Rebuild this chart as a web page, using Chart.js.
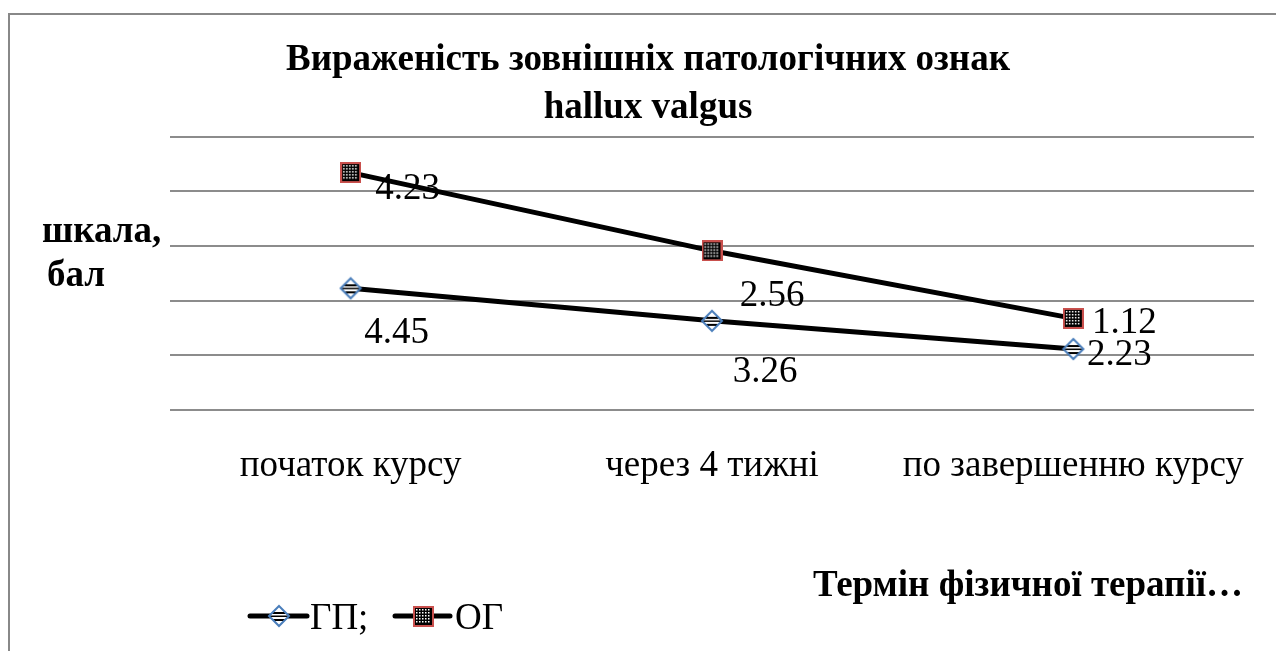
<!DOCTYPE html>
<html><head><meta charset="utf-8">
<script src="https://cdn.jsdelivr.net/npm/chart.js@4/dist/chart.umd.min.js"></script>
<style>html,body{margin:0;padding:0;background:#fff;overflow:hidden}</style>
</head><body>
<canvas id="c" width="1276" height="651"></canvas>
<script>
const categories = ['початок курсу', 'через 4 тижні', 'по завершенню курсу'];
const seriesNames = ['ГП', 'ОГ'];
const gpValues = [4.45, 3.26, 2.23];
const ogValues = [4.23, 2.56, 1.12];
const yTicks = [0, 2, 4, 6, 8, 10];
const chartTitle = ['Вираженість зовнішніх патологічних ознак', 'hallux valgus'];
const yTitle = ['шкала,', 'бал'];
const xTitle = 'Термін фізичної терапії…';

const SERIF = '"Liberation Serif", "Times New Roman", serif';
const FS = 37;

// marker images
function makeDiamond() {
  const s = 24, c = document.createElement('canvas');
  c.width = s; c.height = s;
  const g = c.getContext('2d');
  const m = s / 2, r = 10;
  g.beginPath(); g.moveTo(m, m - r); g.lineTo(m + r, m); g.lineTo(m, m + r); g.lineTo(m - r, m); g.closePath();
  g.fillStyle = '#fff'; g.fill();
  g.save(); g.clip();
  g.fillStyle = '#000';
  g.fillRect(0, m - 4, s, 2); g.fillRect(0, m - 0.5, s, 1.5); g.fillRect(0, m + 3, s, 2);
  g.restore();
  g.lineWidth = 2; g.strokeStyle = '#4a7ebb'; g.stroke();
  return c;
}
function makeSquare() {
  const s = 21, c = document.createElement('canvas');
  c.width = s; c.height = s;
  const g = c.getContext('2d');
  g.fillStyle = '#000'; g.fillRect(1, 1, s - 2, s - 2);
  g.fillStyle = '#fff';
  for (let y = 3; y < s - 3; y += 3) for (let x = 3; x < s - 3; x += 3) g.fillRect(x, y, 1.5, 1.5);
  g.lineWidth = 2; g.strokeStyle = '#c9504d'; g.strokeRect(1, 1, s - 2, s - 2);
  return c;
}
const markers = [makeDiamond(), makeSquare()];
const labelOffsets = [
  [[46, 45], [53, 51], [46, 6]],
  [[57, 17], [60, 45], [51, 5]]
];

const decor = {
  id: 'decor',
  afterDraw(chart) {
    const g = chart.ctx;
    g.save();
    // frame
    g.strokeStyle = '#888'; g.lineWidth = 2;
    g.beginPath(); g.moveTo(9, 660); g.lineTo(9, 14); g.lineTo(1290, 14); g.stroke();
    g.fillStyle = '#000';
    // title
    g.font = 'bold ' + FS + 'px ' + SERIF; g.textAlign = 'center'; g.textBaseline = 'alphabetic';
    g.fillText(chartTitle[0], 648, 70);
    g.fillText(chartTitle[1], 648, 118);
    // y title
    g.textAlign = 'left';
    g.fillText(yTitle[0], 42, 242);
    g.fillText(yTitle[1], 47, 286);
    // x title
    g.textAlign = 'right';
    g.fillText(xTitle, 1243, 596);
    // data labels
    g.font = FS + 'px ' + SERIF; g.textAlign = 'center'; g.textBaseline = 'middle';
    chart.data.datasets.forEach((ds, i) => {
      const meta = chart.getDatasetMeta(i);
      meta.data.forEach((pt, j) => {
        const o = labelOffsets[i][j];
        g.fillText(ds.data[j].toFixed(2), pt.x + o[0], pt.y + o[1]);
      });
    });
    // legend
    const ly = 616;
    const items = [[250, 307, 279, 310], [395, 450, 423, 455]];
    g.textAlign = 'left'; g.textBaseline = 'middle';
    items.forEach((it, i) => {
      g.strokeStyle = '#000'; g.lineWidth = 5; g.lineCap = 'round';
      g.beginPath(); g.moveTo(it[0], ly); g.lineTo(it[1], ly); g.stroke();
      const m = markers[i];
      g.drawImage(m, Math.round(it[2] - m.width / 2), Math.round(ly - m.height / 2));
      g.fillText(seriesNames[i] + (i === 0 ? ';' : ''), it[3], ly + 3);
    });
    g.restore();
  }
};

new Chart(document.getElementById('c'), {
  type: 'line',
  data: {
    labels: categories,
    datasets: [
      { label: seriesNames[0], data: gpValues, borderColor: '#000', borderWidth: 5, pointStyle: markers[0], pointRadius: 10, fill: false, tension: 0 },
      { label: seriesNames[1], data: ogValues, borderColor: '#000', borderWidth: 5, pointStyle: markers[1], pointRadius: 10, fill: false, tension: 0 }
    ]
  },
  options: {
    responsive: false,
    animation: false,
    layout: { padding: { left: 170, right: 22, top: 136.5, bottom: 0 } },
    plugins: { legend: { display: false }, title: { display: false }, tooltip: { enabled: false } },
    scales: {
      x: {
        offset: true,
        grid: { display: false, drawTicks: false },
        border: { display: false },
        ticks: { font: { family: SERIF, size: FS }, color: '#000', padding: 34, maxRotation: 0, autoSkip: false },
        afterFit(s) { s.height = 241; s.paddingLeft = 0; s.paddingRight = 0; }
      },
      y: {
        stacked: true,
        min: yTicks[0], max: yTicks[yTicks.length - 1],
        afterBuildTicks(s) { s.ticks = yTicks.map(v => ({ value: v })); },
        grid: { color: '#8c8c8c', lineWidth: 2, drawTicks: false },
        border: { display: false },
        ticks: { display: false },
        afterFit(s) { s.width = 0; s.paddingTop = 0; s.paddingBottom = 0; }
      }
    }
  },
  plugins: [decor]
});
</script>
</body></html>
